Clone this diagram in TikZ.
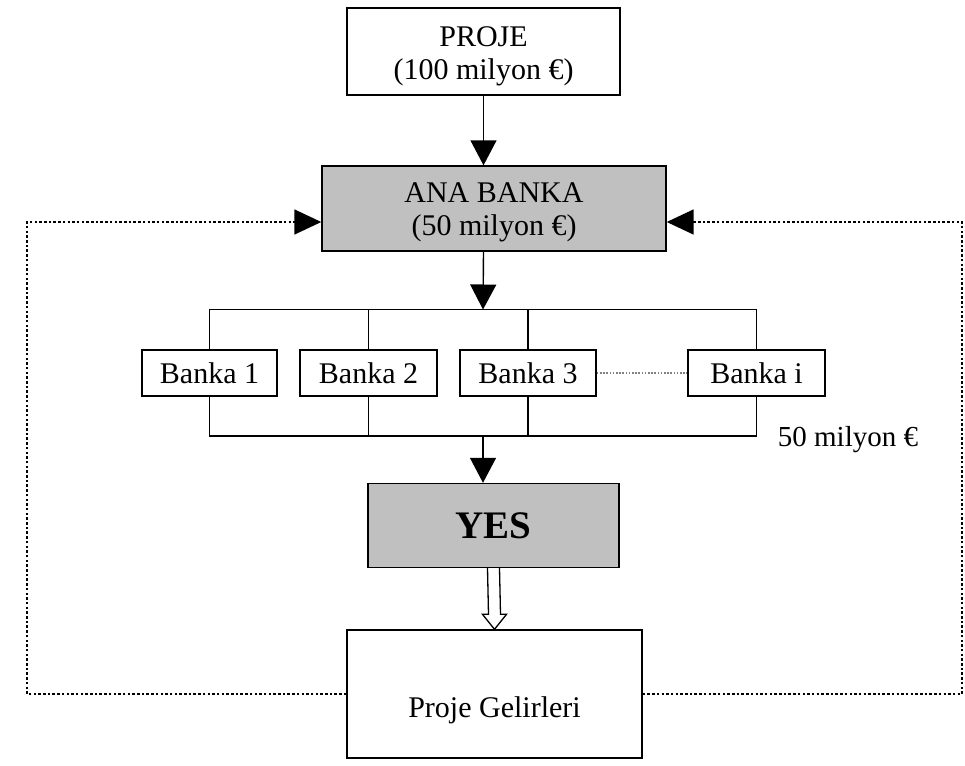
\documentclass[tikz,border=0pt]{standalone}
\usepackage{fontspec}
\setmainfont{Liberation Serif}
\usetikzlibrary{arrows.meta,calc}
\definecolor{boxgray}{HTML}{C0C0C0}
\tikzset{
  box/.style={draw=black, line width=1.4pt, fill=white, inner sep=0pt, align=center,
    font=\fontsize{30}{33}\selectfont},
  graybox/.style={box, fill=boxgray},
  conn/.style={draw=black, line width=1.4pt},
  arr/.style={conn, -{Triangle[width=26pt,length=25pt]}},
  fb/.style={draw=black, line width=1.6pt, dash pattern=on 2.5pt off 2.2pt},
  fbarr/.style={fb, -{Triangle[width=25pt,length=27pt]}},
  lbl/.style={inner sep=0pt, align=center, font=\fontsize{30}{33}\selectfont},
}
\begin{document}
\begin{tikzpicture}[x=1pt,y=-1pt]
\useasboundingbox (0,0) rectangle (965,765);
\fill[white] (0,0) rectangle (965,765);
% main boxes
\node[box, minimum width=273pt, minimum height=87pt] (proje) at (483.5,51.5) {};
\node[lbl] (projetxt) at ($(proje.center)+(0,5)$) {PROJE\\(100 milyon €)};
\node[graybox, minimum width=344pt, minimum height=85pt] (ana) at (494,208.5) {};
\node[lbl] (anatxt) at ($(ana.center)+(0,4)$) {ANA BANKA\\(50 milyon €)};
% bank boxes
\node[box, minimum width=135pt, minimum height=46pt] (b1) at (209.5,373) {Banka 1};
\node[box, minimum width=137pt, minimum height=46pt] (b2) at (368.5,373) {Banka 2};
\node[box, minimum width=136pt, minimum height=46pt] (b3) at (528,373) {Banka 3};
\node[box, minimum width=137pt, minimum height=46pt] (bi) at (756.5,373) {Banka i};
\node[graybox, minimum width=251pt, minimum height=84pt, font=\fontsize{39}{41}\selectfont\bfseries] (yes) at (493.5,525.5) {YES};
\node[box, minimum width=295pt, minimum height=128pt] (pg) at (494.5,694) {};
\node[lbl] (pgtxt) at ($(pg.center)+(0,16)$) {Proje Gelirleri};
\node[lbl, font=\fontsize{29}{32}\selectfont] (amt) at (848,440) {50 milyon €};
% split coordinates
\coordinate (top) at (483,309.5);
\coordinate (bot) at (483,436);
% arrows
\draw[arr] (proje.south) -- (proje.south |- ana.north);
\draw[arr] (proje.south |- ana.south) -- (top);
\draw[conn] (b1.north) -- (b1.north |- top) -- (bi.north |- top) -- (bi.north);
\draw[conn] (b2.north) -- (b2.north |- top);
\draw[conn] (b3.north) -- (b3.north |- top);
\draw[conn] (b1.south) -- (b1.south |- bot) -- (bi.south |- bot) -- (bi.south);
\draw[conn] (b2.south) -- (b2.south |- bot);
\draw[conn] (b3.south) -- (b3.south |- bot);
\draw[arr] (bot) -- (bot |- yes.north);
\draw[draw=gray, line width=1.2pt, dash pattern=on 1.6pt off 1.6pt] (b3.east) -- (bi.west);
% hollow arrow
\draw[line width=1.3pt, fill=white]
  ($(yes.south)+(-6,0)$) -- ($(pg.north)+(-6,-15)$) -- ($(pg.north)+(-12,-15)$) --
  (pg.north) -- ($(pg.north)+(12,-15)$) -- ($(pg.north)+(6,-15)$) -- ($(yes.south)+(6,0)$);
% feedback loops
\coordinate (lc) at (27,0);
\coordinate (rc) at (962,0);
\coordinate (anaL) at ($(ana.west)+(0,13.5)$);
\coordinate (anaR) at ($(ana.east)+(0,13.5)$);
\draw[fbarr] (pg.west) -- (pg.west -| lc) -- (lc |- anaL) -- (anaL);
\draw[fbarr] (pg.east) -- (pg.east -| rc) -- (rc |- anaR) -- (anaR);
\end{tikzpicture}
\end{document}
